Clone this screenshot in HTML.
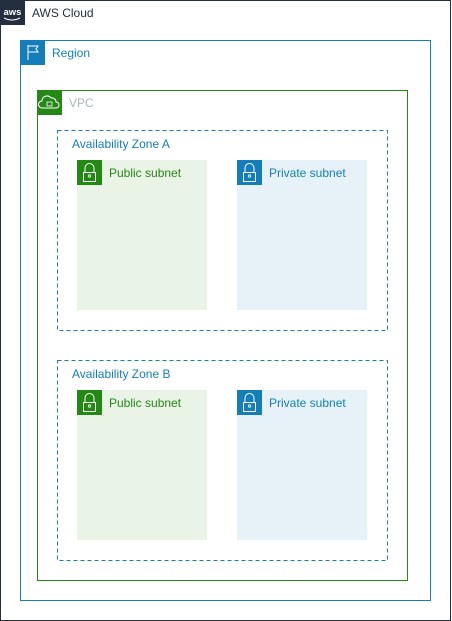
<!DOCTYPE html>
<html><head><style>body{margin:0;background:#fff}svg{display:block}text{font-family:"Liberation Sans",Arial,sans-serif;font-size:12px}</style></head>
<body>
<svg width="452" height="621" viewBox="0 0 452 621" xmlns="http://www.w3.org/2000/svg">
<rect x="0.5" y="0.5" width="450" height="620" fill="#fff" stroke="#232F3E"/>
<rect x="0" y="0" width="25" height="25" fill="#232F3E"/>
<text x="3.5" y="15" fill="#fff" style="font-size:9.5px;font-weight:bold">aws</text>
<path d="M4 18 Q12 22 20 18" stroke="#fff" stroke-width="1" fill="none"/>
<text x="32" y="17" fill="#232F3E">AWS Cloud</text>

<rect x="20.5" y="40.5" width="410" height="560" fill="none" stroke="#147EBA"/>
<rect x="20" y="40" width="25" height="25" fill="#147EBA"/>
<path d="M28 60V45M28 46h10l-2 3 2 3H28" stroke="#fff" stroke-width="1" fill="none"/>
<text x="52" y="57" fill="#147EBA">Region</text>

<rect x="37.5" y="90.5" width="370" height="490" fill="none" stroke="#248814"/>
<rect x="37" y="90" width="25" height="25" fill="#248814"/>
<path d="M42 108h14a3 3 0 0 0 0-6 4 4 0 0 0-5-4 5 5 0 0 0-9 3 3 3 0 0 0 0 7z" stroke="#fff" fill="none"/>
<rect x="47" y="102" width="5" height="4" stroke="#fff" fill="none" stroke-width="0.8"/>
<text x="69" y="107" fill="#AAB7B8">VPC</text>

<g stroke="#147EBA" stroke-dasharray="4 3" fill="none">
<rect x="57.5" y="130.5" width="330" height="200"/>
<rect x="57.5" y="360.5" width="330" height="200"/>
</g>
<text x="72" y="148" fill="#147EBA">Availability Zone A</text>
<text x="72" y="378" fill="#147EBA">Availability Zone B</text>

<g>
<rect x="77" y="160" width="130" height="150" fill="#E9F3E6"/>
<rect x="237" y="160" width="130" height="150" fill="#E6F2F8"/>
<rect x="77" y="390" width="130" height="150" fill="#E9F3E6"/>
<rect x="237" y="390" width="130" height="150" fill="#E6F2F8"/>
</g>
<g id="lk">
<rect x="77" y="160" width="25" height="25" fill="#248814"/>
<path d="M85 172v-4a4.5 4.5 0 0 1 9 0v4" stroke="#fff" fill="none"/>
<rect x="83.5" y="172.5" width="12" height="9" stroke="#fff" fill="none"/>
<circle cx="89.5" cy="176" r="1.2" stroke="#fff" fill="none" stroke-width="0.8"/>
</g>
<text x="109" y="177" fill="#248814">Public subnet</text>
<g transform="translate(0,230)">
<rect x="77" y="160" width="25" height="25" fill="#248814"/>
<path d="M85 172v-4a4.5 4.5 0 0 1 9 0v4" stroke="#fff" fill="none"/>
<rect x="83.5" y="172.5" width="12" height="9" stroke="#fff" fill="none"/>
<circle cx="89.5" cy="176" r="1.2" stroke="#fff" fill="none" stroke-width="0.8"/>
</g>
<text x="109" y="407" fill="#248814">Public subnet</text>
<g transform="translate(160,0)">
<rect x="77" y="160" width="25" height="25" fill="#147EBA"/>
<path d="M85 172v-4a4.5 4.5 0 0 1 9 0v4" stroke="#fff" fill="none"/>
<rect x="83.5" y="172.5" width="12" height="9" stroke="#fff" fill="none"/>
<circle cx="89.5" cy="176" r="1.2" stroke="#fff" fill="none" stroke-width="0.8"/>
</g>
<text x="269" y="177" fill="#147EBA">Private subnet</text>
<g transform="translate(160,230)">
<rect x="77" y="160" width="25" height="25" fill="#147EBA"/>
<path d="M85 172v-4a4.5 4.5 0 0 1 9 0v4" stroke="#fff" fill="none"/>
<rect x="83.5" y="172.5" width="12" height="9" stroke="#fff" fill="none"/>
<circle cx="89.5" cy="176" r="1.2" stroke="#fff" fill="none" stroke-width="0.8"/>
</g>
<text x="269" y="407" fill="#147EBA">Private subnet</text>
</svg>
</body></html>
